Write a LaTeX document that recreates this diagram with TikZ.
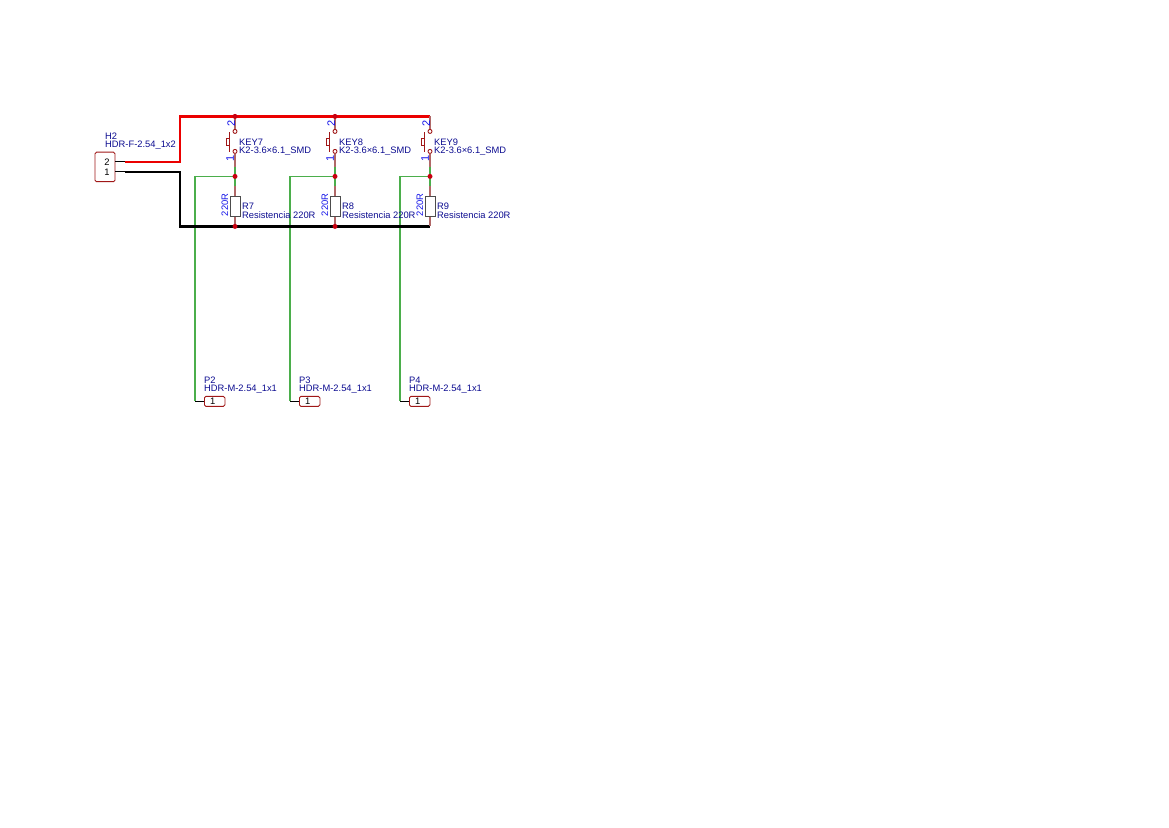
\documentclass[tikz,border=0pt]{standalone}
\usepackage{fontspec}
\setmainfont{Liberation Sans}
\definecolor{lbl}{HTML}{0C0C90}
\definecolor{pinnum}{HTML}{1414E8}
\definecolor{part}{HTML}{A01818}
\definecolor{lead}{HTML}{B06868}
\definecolor{netg}{HTML}{4BAE4B}
\definecolor{dot}{HTML}{C80010}
\tikzset{
  x=1pt,y=-1pt,
  txt/.style={font=\fontsize{9.35}{10}\selectfont,text=lbl,inner sep=0pt,anchor=west,yshift=.3pt},
  pinlbl/.style={font=\fontsize{11}{11}\selectfont,text=pinnum,inner sep=0pt,rotate=90},
  vallbl/.style={font=\fontsize{9.4}{10}\selectfont,text=pinnum,inner sep=0pt,rotate=90},
  num/.style={font=\fontsize{9.4}{10}\selectfont,text=black,inner sep=0pt},
  junction/.style={circle,fill=dot,draw=none,minimum size=5pt,inner sep=0pt},
  pad/.style={circle,draw=part,fill=white,line width=.9pt,minimum size=4pt,inner sep=0pt},
  resbox/.style={draw=black!70,line width=.9pt,fill=white,minimum width=10pt,minimum height=20pt,inner sep=0pt},
  hdrbox/.style={draw=part,line width=.9pt,rounded corners=1.5pt,fill=white,inner sep=0pt},
  leadw/.style={draw=lead,line width=1.3pt},
  pinw/.style={draw=black,line width=.9pt},
  greenw/.style={draw=netg,line width=1.3pt},
  redw/.style={draw=red!92!black,line width=2.5pt,line join=miter},
  blackw/.style={draw=black,line width=2.3pt,line join=miter},
}
\begin{document}
\begin{tikzpicture}
\useasboundingbox (0,0) rectangle (1169,827);
\begin{scope}[yshift=-.4pt]
% H2 header
\node[hdrbox,minimum width=20pt,minimum height=29.5pt] (h2) at (105,166.5) {};
\node[num] (h2n2) at (107,161.5) {2};
\node[num] (h2n1) at (107,171.5) {1};
\node[txt] (h2a) at (105,136) {H2};
\node[txt] (h2b) at (105,145.5) {HDR-F-2.54\_1x2};
\coordinate (h2p2) at (115,161.5);
\coordinate (h2p1) at (115,171.5);
\coordinate (h2e2) at (125,161.5);
\coordinate (h2e1) at (125,171.5);
\draw[pinw] (h2p2) -- (h2e2);
\draw[pinw] (h2p1) -- (h2e1);
% bus anchors
\coordinate (redc) at (180,116);
\coordinate (blkc) at (180,226);
\coordinate (top9) at (430,116);
\coordinate (bot9) at (430,226);
% green nets run under the buses
\foreach \cx/\gx/\kn/\rn/\pn in {235/195/KEY7/R7/P2,335/290/KEY8/R8/P3,430/400/KEY9/R9/P4}{
  \coordinate (g\rn) at (\cx,176);
  \coordinate (gc\rn) at (\gx,176);
  \coordinate (gd\rn) at (\gx,401);
  \draw[greenw] (g\rn) -- (gc\rn) -- (gd\rn);
}
% power and ground buses
\draw[redw] (h2e2) -- (180,161.5) -- (redc) -- (top9);
\draw[blackw] (h2e1) -- (180,171.5) -- (blkc) -- (bot9);
% three channels
\foreach \cx/\gx/\kn/\rn/\pn in {235/195/KEY7/R7/P2,335/290/KEY8/R8/P3,430/400/KEY9/R9/P4}{
  \coordinate (t\rn) at (\cx,116);
  \node[pad] (ka\rn) at (\cx,131) {};
  \node[pad] (kb\rn) at (\cx,151) {};
  \coordinate (m\rn) at (\cx,166.5);
  \coordinate (n\rn) at (\cx,186);
  \node[resbox] (\rn) at (\cx,206) {};
  \coordinate (b\rn) at (\cx,226);
  \draw[leadw] (t\rn) -- (ka\rn);
  \draw[leadw] (kb\rn) -- (m\rn);
  \draw[greenw] (m\rn) -- (n\rn);
  \draw[leadw] (n\rn) -- (\rn.north);
  \draw[leadw] (\rn.south) -- (b\rn);
  % switch lever and button
  \draw[part,line width=1.2pt] ({\cx-5.7},132) -- ({\cx-5.7},151.5);
  \draw[part,line width=1pt] ({\cx-5.7},138.5) -- ({\cx-8.3},138.5) -- ({\cx-8.3},145) -- ({\cx-5.7},145);
  \node[pinlbl] (p2\rn) at ({\cx-3.8},123.5) {2};
  \node[pinlbl] (p1\rn) at ({\cx-5},158) {1};
  \node[txt] (kl\rn) at ({\cx+4},142) {\kn};
  \node[txt] (kv\rn) at ({\cx+4},151) {K2-3.6×6.1\_SMD};
  \node[vallbl] (rv\rn) at ({\cx-10},204.5) {220R};
  \node[txt] (rl\rn) at ({\cx+7},206) {\rn};
  \node[txt] (rd\rn) at ({\cx+7},215.5) {Resistencia 220R};
  % pin header at the bottom
  \node[hdrbox,minimum width=20.5pt,minimum height=10pt] (\pn) at ({\gx+19.7},401) {};
  \node[num] (\pn n) at ({\gx+17.7},401) {1};
  \node[txt] (\pn a) at ({\gx+9},380) {\pn};
  \node[txt] (\pn b) at ({\gx+9},389) {HDR-M-2.54\_1x1};
  \draw[pinw] (gd\rn) -- (\pn.west);
}
% junctions
\foreach \rn in {R7,R8,R9}{ \node[junction] (jg\rn) at (g\rn) {}; }
\foreach \rn in {R7,R8}{
  \node[junction] (jt\rn) at (t\rn) {};
  \node[junction] (jb\rn) at (b\rn) {};
}
\end{scope}
\end{tikzpicture}
\end{document}
